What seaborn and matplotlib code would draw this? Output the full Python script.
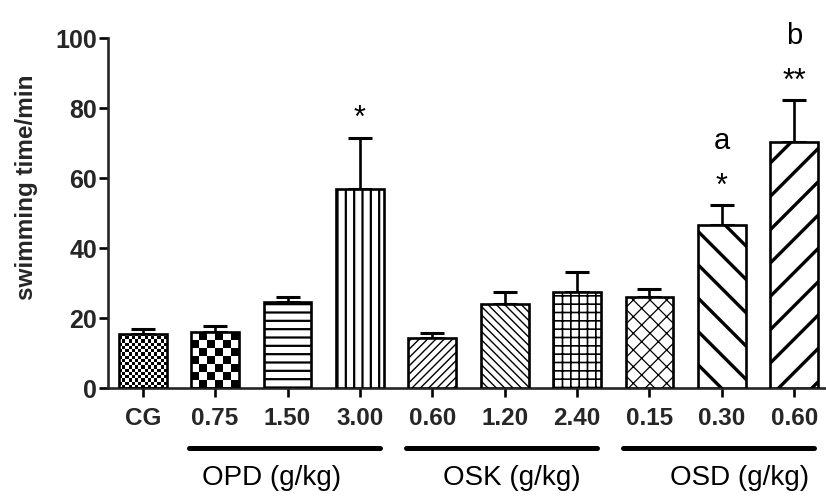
import numpy as np
import pandas as pd
import matplotlib
matplotlib.use("Agg")
import matplotlib.pyplot as plt
import seaborn as sns
from matplotlib.transforms import blended_transform_factory

# ---------------- data ----------------
group_keys = ["CG", "OPD0.75", "OPD1.50", "OPD3.00", "OSK0.60", "OSK1.20",
              "OSK2.40", "OSD0.15", "OSD0.30", "OSD0.60"]
tick_labels = ["CG", "0.75", "1.50", "3.00", "0.60", "1.20", "2.40",
               "0.15", "0.30", "0.60"]
means = [15.5, 16.0, 24.7, 57.0, 14.3, 24.0, 27.3, 26.0, 46.5, 70.2]
sems = [1.3, 1.7, 1.3, 14.5, 1.5, 3.5, 5.8, 2.3, 5.8, 12.0]
marks = ["", "", "", "*", "", "", "", "", "*", "**"]
letters = ["", "", "", "", "", "", "", "", "a", "b"]
group_names = ["OPD (g/kg)", "OSK (g/kg)", "OSD (g/kg)"]
group_ranges = [(1, 3), (4, 6), (7, 9)]
group_label_x = [1.78, 5.1, 8.25]

hatches = [None, None, "--", "||", "////", "\\\\\\\\", "++", "xx", "\\", "/"]
hatch_lw = [1, 1, 1.6, 1.6, 1.0, 1.0, 1.2, 0.9, 2.4, 2.4]
checker_cells = {0: 3.2, 1: 7.5}   # checker cell size in px

df = pd.DataFrame({"group": group_keys, "time": means})

# ---------------- style ----------------
sns.set_theme(style="ticks")
plt.rcParams["font.family"] = ["Liberation Sans", "DejaVu Sans"]
plt.rcParams["hatch.linewidth"] = 1.2
plt.rcParams["hatch.color"] = "black"

fig = plt.figure(figsize=(8.26, 4.97), dpi=100)
ax = fig.add_axes([108 / 826, 109 / 497, 718 / 826, 350 / 497])

sns.barplot(data=df, x="group", y="time", order=group_keys, color="white",
            edgecolor="black", linewidth=1.9, width=0.66, errorbar=None,
            saturation=1, ax=ax)

ax.set_xlim(-0.48, 9.44)
ax.set_ylim(0, 100)

xpos = np.arange(len(group_keys))
ax.errorbar(xpos, means, yerr=[np.zeros(len(sems)), sems], fmt="none",
            ecolor="black", elinewidth=1.9, capsize=8.5, capthick=2.2,
            zorder=1)

# hatches
bars = ax.patches[:len(group_keys)]
for i, p in enumerate(bars):
    p.set_zorder(3)
    if hatches[i]:
        p.set_hatch(hatches[i])
        if hasattr(p, "set_hatch_linewidth"):
            p.set_hatch_linewidth(hatch_lw[i])

# checkerboard fills
fig.canvas.draw()
for i, cell in checker_cells.items():
    p = bars[i]
    bb = p.get_bbox()
    (px0, py0) = ax.transData.transform((bb.x0, bb.y0))
    (px1, py1) = ax.transData.transform((bb.x1, bb.y1))
    nx = max(1, int(round((px1 - px0) / cell)))
    ny = max(1, int(round((py1 - py0) / cell)))
    jj, ii = np.indices((ny, nx))
    arr = ((ii + jj) % 2).astype(float)
    p.set_facecolor("none")
    im = ax.imshow(arr, cmap="gray_r", vmin=0, vmax=1, extent=[bb.x0, bb.x1, bb.y0, bb.y1],
                   aspect="auto", interpolation="nearest", zorder=2)
    im.set_clip_path(p)
ax.set_xlim(-0.48, 9.44)
ax.set_ylim(0, 100)

# axes styling
sns.despine(ax=ax)
for s in ["left", "bottom"]:
    ax.spines[s].set_linewidth(1.9)
ax.tick_params(axis="both", which="major", length=6.5, width=1.9, color="black",
               direction="out")
ax.tick_params(axis="x", pad=7)
ax.tick_params(axis="y", pad=1.5)
ax.set_yticks([0, 20, 40, 60, 80, 100])
ax.set_yticklabels(["0", "20", "40", "60", "80", "100"], fontsize=18,
                   fontweight="bold")
ax.set_xticks(xpos)
ax.set_xticklabels(tick_labels, fontsize=17.5, fontweight="bold")
ax.set_xlabel("")
ax.set_ylabel("swimming time/min", fontsize=17.5, fontweight="bold")
ax.yaxis.set_label_coords(-0.097, 0.574)

# significance marks
for i in range(len(group_keys)):
    top = means[i] + sems[i]
    if marks[i]:
        ax.text(xpos[i], top + 3.0, marks[i], ha="center", va="baseline",
                fontsize=22, color="black")
    if letters[i]:
        ax.text(xpos[i], top + 16, letters[i], ha="center", va="baseline",
                fontsize=21, color="black")

# group lines and labels
trans = blended_transform_factory(ax.transData, ax.transAxes)
for name, (a, b), lx in zip(group_names, group_ranges, group_label_x):
    x0, x1 = a - 0.36, b + 0.28
    ax.plot([x0, x1], [-0.171, -0.171], transform=trans, color="black",
            lw=3.6, solid_capstyle="round", clip_on=False)
    ax.text(lx, -0.257, name, transform=trans, ha="center",
            va="center", fontsize=20, color="black")

fig.savefig("out.png", dpi=100)
